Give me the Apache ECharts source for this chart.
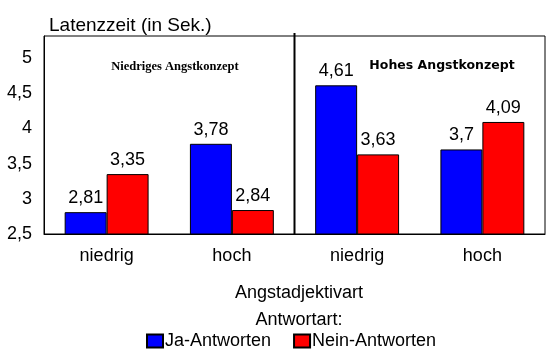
<!DOCTYPE html>
<html>
<head>
<meta charset="utf-8">
<style>html,body{margin:0;padding:0;background:#fff}#c{width:553px;height:358px}</style>
<script src="https://cdn.jsdelivr.net/npm/echarts@6/dist/echarts.min.js"></script>
</head>
<body>
<div id="c"></div>
<script>
const categories = ['niedrig', 'hoch', 'niedrig', 'hoch'];
const jaAntworten = [2.81, 3.78, 4.61, 3.7];
const neinAntworten = [3.35, 2.84, 3.63, 4.09];
const seriesNames = ['Ja-Antworten', 'Nein-Antworten'];
const yMin = 2.5, yMax = 5.31, yInterval = 0.5;

const F = '"Liberation Sans", Arial, sans-serif';
const fmt = p => String(p.value).replace('.', ',');
const chart = echarts.init(document.getElementById('c'));
chart.setOption({
  animation: false,
  backgroundColor: '#fff',
  title: [
    {text: 'Latenzzeit (in Sek.)', left: 44, top: 11, textStyle: {fontFamily: F, fontSize: 19, fontWeight: 'normal', color: '#000'}},
    {text: 'Niedriges Angstkonzept', left: 170, top: 55, textAlign: 'center', textStyle: {fontFamily: '"Liberation Serif", "Times New Roman", serif', fontSize: 12.5, fontWeight: 'bold', color: '#000'}},
    {text: 'Hohes Angstkonzept', left: 437, top: 54, textAlign: 'center', textStyle: {fontFamily: '"DejaVu Sans", sans-serif', fontSize: 12.5, fontWeight: 'bold', color: '#000'}},
    {text: 'Angstadjektivart', left: 294, top: 279, textAlign: 'center', textStyle: {fontFamily: F, fontSize: 18, fontWeight: 'normal', color: '#000'}},
    {text: 'Antwortart:', left: 294, top: 306, textAlign: 'center', textStyle: {fontFamily: F, fontSize: 18, fontWeight: 'normal', color: '#000'}}
  ],
  legend: {
    data: seriesNames,
    left: 146, top: 332, padding: 0,
    icon: 'rect',
    itemWidth: 16, itemHeight: 13, itemGap: 22,
    textStyle: {fontFamily: F, fontSize: 18, color: '#000', padding: [0, 0, 0, -3]}
  },
  grid: {left: 44, top: 36, right: 8, bottom: 124, show: true, borderColor: '#000', borderWidth: 1, backgroundColor: '#fff'},
  xAxis: {
    type: 'category', data: categories,
    axisLine: {lineStyle: {color: '#000'}},
    axisTick: {show: false},
    axisLabel: {fontFamily: F, fontSize: 18, color: '#000', margin: 13}
  },
  yAxis: {
    type: 'value', min: yMin, max: yMax, interval: yInterval,
    axisLine: {show: true, lineStyle: {color: '#000'}},
    axisTick: {show: false},
    splitLine: {show: false},
    axisLabel: {fontFamily: F, fontSize: 18, color: '#000', margin: 12, showMaxLabel: false, formatter: v => String(v).replace('.', ',')}
  },
  series: [
    {name: seriesNames[0], type: 'bar', data: jaAntworten, barGap: '0%', barCategoryGap: '33%',
     itemStyle: {color: '#0000ff', borderColor: '#000', borderWidth: 1},
     label: {show: true, position: 'top', distance: 5, formatter: fmt, fontFamily: F, fontSize: 18, color: '#000'}},
    {name: seriesNames[1], type: 'bar', data: neinAntworten,
     itemStyle: {color: '#ff0000', borderColor: '#000', borderWidth: 1},
     label: {show: true, position: 'top', distance: 5, formatter: fmt, fontFamily: F, fontSize: 18, color: '#000'}}
  ]
});
const c1 = chart.convertToPixel({xAxisIndex: 0}, 1);
const c2 = chart.convertToPixel({xAxisIndex: 0}, 2);
const xb = (c1 + c2) / 2;
const yb = chart.convertToPixel({yAxisIndex: 0}, yMin);
const yt = chart.convertToPixel({yAxisIndex: 0}, yMax);
chart.setOption({graphic: [{type: 'line', shape: {x1: xb, y1: yt - 3, x2: xb, y2: yb}, style: {stroke: '#000', lineWidth: 2}, z: 100}]});
</script>
</body>
</html>
